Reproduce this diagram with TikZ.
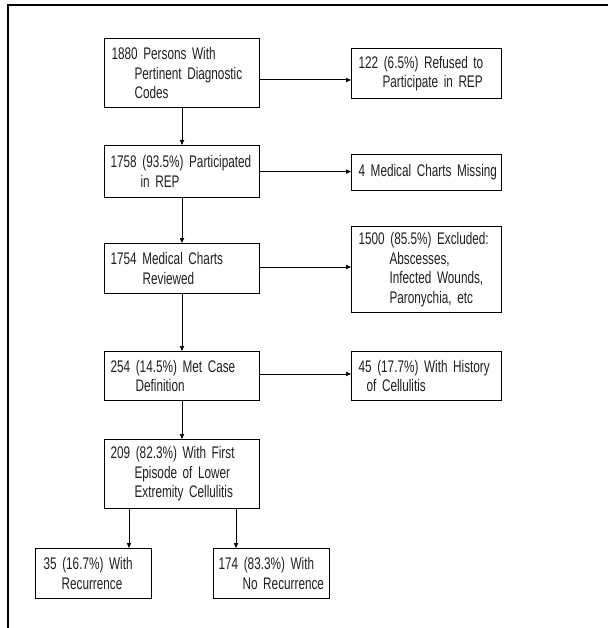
\documentclass[tikz,border=0pt]{standalone}
\usepackage{fontspec}
\setmainfont{Liberation Sans}[FakeStretch=0.70]
\usetikzlibrary{arrows.meta}
\newcommand{\bxl}[2][0pt]{\hspace*{#1}\mbox{#2}}
\newcommand{\bxfont}{\fontsize{16.8pt}{19.5pt}\selectfont\spaceskip=3.1pt\relax}
\begin{document}
\begin{tikzpicture}[x=1pt,y=-1pt,
  fbox/.style={draw=black, line width=1.2pt, anchor=north west, inner xsep=7pt, inner ysep=0pt,
    align=left, font=\bxfont, text=black!88},
  arr/.style={line width=1pt, -{Triangle[length=5pt,width=4.2pt]}},
  frame/.style={line width=1.2pt}]
\useasboundingbox (0,0) rectangle (608,628);
\coordinate (ftl) at (8,5);
\coordinate (ftr) at (608,5);
\coordinate (fbl) at (8,628);
\draw[frame] (ftr) -- (ftl) -- (fbl);
% boxes
\node[fbox, text width=141pt, minimum height=69pt] (A) at (104,38)
  {\bxl{1880 Persons With}\\\bxl[23pt]{Pertinent Diagnostic}\\\bxl[23pt]{Codes}};
\node[fbox, text width=136pt, minimum height=50pt] (B) at (351,48)
  {\bxl{122 (6.5\%) Refused to}\\\bxl[24pt]{Participate in REP}};
\node[fbox, inner xsep=6pt, text width=143pt, minimum height=52pt] (C) at (104,145)
  {\bxl{1758 (93.5\%) Participated}\\\bxl[30pt]{in REP}};
\node[fbox, text width=136pt, minimum height=36pt] (D) at (351,154)
  {\bxl{4 Medical Charts Missing}};
\node[fbox, inner xsep=6pt, text width=143pt, minimum height=50pt] (E) at (104,243)
  {\bxl{1754 Medical Charts}\\\bxl[32pt]{Reviewed}};
\node[fbox, text width=136pt, minimum height=86pt] (F) at (351,226)
  {\bxl{1500 (85.5\%) Excluded:}\\\bxl[31pt]{Abscesses,}\\\bxl[31pt]{Infected Wounds,}\\\bxl[31pt]{Paronychia, etc}};
\node[fbox, inner xsep=6pt, text width=143pt, minimum height=49pt] (G) at (104,351)
  {\bxl{254 (14.5\%) Met Case}\\\bxl[25pt]{Definition}};
\node[fbox, text width=136pt, minimum height=49pt] (H) at (351,351)
  {\bxl{45 (17.7\%) With History}\\\bxl[8pt]{of Cellulitis}};
\node[fbox, inner xsep=6pt, text width=143pt, minimum height=69pt] (I) at (104,439)
  {\bxl{209 (82.3\%) With First}\\\bxl[24pt]{Episode of Lower}\\\bxl[24pt]{Extremity Cellulitis}};
\node[fbox, inner xsep=8pt, text width=100pt, minimum height=50pt] (J) at (35,548)
  {\bxl{35 (16.7\%) With}\\\bxl[18pt]{Recurrence}};
\node[fbox, inner xsep=5pt, text width=106pt, minimum height=50pt] (K) at (213,548)
  {\bxl{174 (83.3\%) With}\\\bxl[24pt]{No Recurrence}};
% connectors
\draw[arr] (A.east |- 0,80) -- (B.west |- 0,80);
\draw[arr] (C.east) -- (C.east -| B.west);
\draw[arr] (E.east |- 0,267) -- (F.west |- 0,267);
\draw[arr] (G.east |- 0,374) -- (H.west |- 0,374);
\draw[arr] (182,0 |- A.south) -- (182,0 |- C.north);
\draw[arr] (182,0 |- C.south) -- (182,0 |- E.north);
\draw[arr] (182,0 |- E.south) -- (182,0 |- G.north);
\draw[arr] (182,0 |- G.south) -- (182,0 |- I.north);
\draw[arr] (129,0 |- I.south) -- (129,0 |- J.north);
\draw[arr] (236,0 |- I.south) -- (236,0 |- K.north);
\end{tikzpicture}
\end{document}
